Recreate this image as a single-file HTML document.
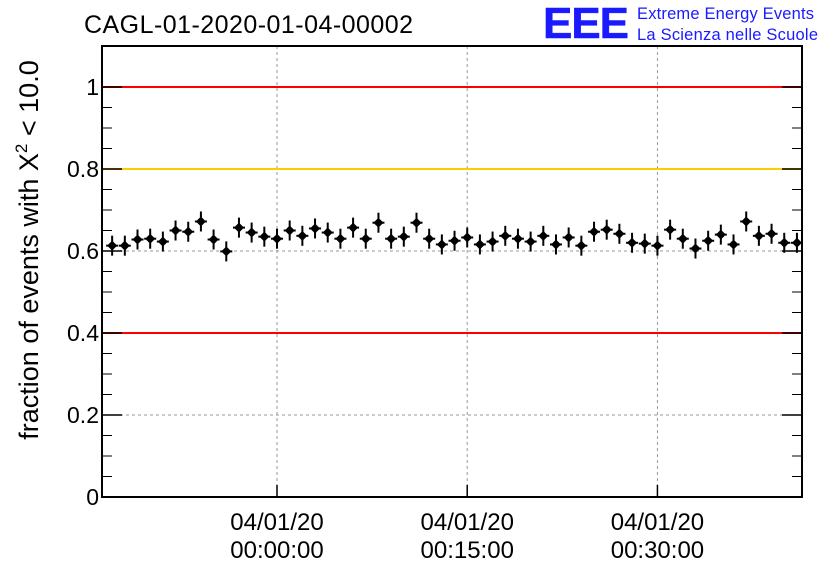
<!DOCTYPE html>
<html><head><meta charset="utf-8"><style>
body{margin:0;background:#fff;width:836px;height:572px;overflow:hidden}
text{font-family:"Liberation Sans",sans-serif}
</style></head><body>
<svg id="chart" width="836" height="572" xmlns="http://www.w3.org/2000/svg">
<text x="84" y="33" font-size="25" textLength="329">CAGL-01-2020-01-04-00002</text>
<text x="543" y="38" font-size="44" font-weight="bold" fill="#1a1aff" stroke="#1a1aff" stroke-width="0.5" textLength="86">EEE</text>
<text x="637" y="19" font-size="16.5" fill="#1a1aff" textLength="177">Extreme Energy Events</text>
<text x="637" y="40" font-size="16.5" fill="#1a1aff" textLength="181">La Scienza nelle Scuole</text>
<text transform="translate(38,250) rotate(-90)" text-anchor="middle" font-size="27">fraction of events with Χ<tspan dy="-11" font-size="17">2</tspan><tspan dy="11"> &lt; 10.0</tspan></text>
<g id="grid"></g><g id="axes"></g><g id="marks"></g>
</svg>
<script>
const minutes=[-13,-12,-11,-10,-9,-8,-7,-6,-5,-4,-3,-2,-1,0,1,2,3,4,5,6,7,8,9,10,11,12,13,14,15,16,17,18,19,20,21,22,23,24,25,26,27,28,29,30,31,32,33,34,35,36,37,38,39,40,41];
const fractions=[0.613,0.613,0.628,0.630,0.623,0.650,0.647,0.672,0.628,0.599,0.657,0.645,0.635,0.630,0.650,0.637,0.655,0.645,0.630,0.657,0.630,0.669,0.630,0.635,0.669,0.630,0.616,0.625,0.633,0.616,0.623,0.637,0.630,0.623,0.637,0.616,0.633,0.613,0.647,0.652,0.642,0.620,0.618,0.613,0.652,0.630,0.606,0.625,0.640,0.616,0.672,0.637,0.642,0.620,0.620];
const yTicks=[0,0.2,0.4,0.6,0.8,1];
const yTickLabels=["0","0.2","0.4","0.6","0.8","1"];
const xTicks=[0,15,30];
const xTickLabels=[["04/01/20","00:00:00"],["04/01/20","00:15:00"],["04/01/20","00:30:00"]];
const refLines=[{v:1,c:"#ff0000"},{v:0.8,c:"#ffcc00"},{v:0.4,c:"#ff0000"}];
const X0=102,X1=802,Y0=497,Y1=46;
const xMin=-13.8,xMax=41.4,yMin=0,yMax=1.1;
const sx=m=>X0+(m-xMin)/(xMax-xMin)*(X1-X0);
const sy=v=>Y0-(v-yMin)/(yMax-yMin)*(Y0-Y1);
const NS="http://www.w3.org/2000/svg";
function mk(tag,attrs,parent){const e=document.createElementNS(NS,tag);for(const k in attrs)e.setAttribute(k,attrs[k]);parent.appendChild(e);return e;}
const grid=document.getElementById('grid'),axes=document.getElementById('axes'),marks=document.getElementById('marks');
yTicks.forEach((t,i)=>{
  if(t>0&&t<1&&!refLines.some(r=>r.v===t)){const g=mk('line',{x1:X0,x2:X1,y1:sy(t),y2:sy(t),stroke:'#999','stroke-dasharray':'3,3'},grid);
  
  }
  const tk=mk('line',{x1:X0,x2:X0+20,y1:sy(t),y2:sy(t),stroke:'#000','stroke-width':1.5},axes);
  
  
  const tk2=mk('line',{x1:X1,x2:X1-20,y1:sy(t),y2:sy(t),stroke:'#000','stroke-width':1.5},axes);
  
  
  const lb=mk('text',{x:X0-3,y:sy(t)+8,'text-anchor':'end','font-size':23},axes);lb.textContent=yTickLabels[i];
  
  
});
for(let i=0;i<yTicks.length-1;i++){for(let j=1;j<4;j++){const v=yTicks[i]+(yTicks[i+1]-yTicks[i])*j/4;
  const m1=mk('line',{x1:X0,x2:X0+10,y1:sy(v),y2:sy(v),stroke:'#000'},axes);
  
  
  const m2=mk('line',{x1:X1,x2:X1-10,y1:sy(v),y2:sy(v),stroke:'#000'},axes);
  
  }}
xTicks.forEach((t,i)=>{
  const g=mk('line',{x1:sx(t),x2:sx(t),y1:Y1,y2:Y0,stroke:'#999','stroke-dasharray':'3,3'},grid);
  
  
  const tk=mk('line',{x1:sx(t),x2:sx(t),y1:Y0,y2:Y0-12,stroke:'#000','stroke-width':1.5},axes);
  
  
  const lb=mk('text',{x:sx(t),y:530,'text-anchor':'middle','font-size':24},axes);lb.textContent=xTickLabels[i][0];
  
  
  const lb2=mk('text',{x:sx(t),y:558,'text-anchor':'middle','font-size':24},axes);lb2.textContent=xTickLabels[i][1];
  
  
});
refLines.forEach(r=>{const l=mk('line',{x1:X0,x2:X1,y1:sy(r.v),y2:sy(r.v),stroke:r.c,'stroke-width':2},grid);
  
  });
const frame=mk('rect',{x:X0,y:Y1,width:X1-X0,height:Y0-Y1,fill:'none',stroke:'#000','stroke-width':2},axes);


const pts=mk('g',{},marks);


minutes.forEach((m,i)=>{
  const x=sx(m),y=sy(fractions[i]);
  const g=mk('g',{},pts);
  
  
  mk('line',{x1:x-6,x2:x+6,y1:y,y2:y,stroke:'#000','stroke-width':2},g);
  mk('line',{x1:x,x2:x,y1:y-10,y2:y+10,stroke:'#000','stroke-width':2},g);
  mk('path',{d:`M${x} ${y-5}L${x+5} ${y}L${x} ${y+5}L${x-5} ${y}Z`,fill:'#000'},g);
});
</script>
</body></html>
